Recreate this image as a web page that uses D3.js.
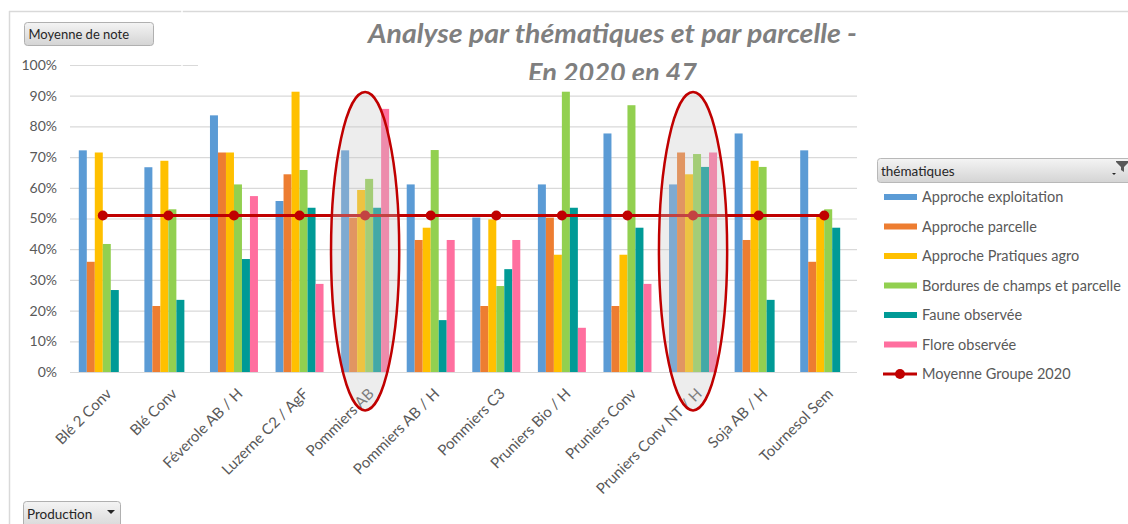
<!DOCTYPE html>
<html lang="fr">
<head>
<meta charset="utf-8">
<title>Analyse par thématiques et par parcelle</title>
<script src="https://d3js.org/d3.v7.min.js"></script>
<style>
  body { margin: 0; background: #fff; }
  svg { display: block; font-family: Lato, "Open Sans", sans-serif; }
</style>
</head>
<body>
<div id="chart"></div>
<script>
// categories (parcelles)
var categories = ["Blé 2 Conv", "Blé Conv", "Féverole AB / H", "Luzerne C2 / AgF", "Pommiers AB",
                  "Pommiers AB / H", "Pommiers C3", "Pruniers Bio / H", "Pruniers Conv",
                  "Pruniers Conv NT / H", "Soja AB / H", "Tournesol Sem"];

var seriesNames = ["Approche exploitation", "Approche parcelle", "Approche Pratiques agro",
                   "Bordures de champs et parcelle", "Faune observée", "Flore observée"];
var lineName = "Moyenne Groupe 2020";

var approcheExploitation = [0.722, 0.667, 0.836, 0.557, 0.722, 0.611, 0.503, 0.611, 0.777, 0.611, 0.777, 0.722];
var approcheParcelle     = [0.359, 0.215, 0.715, 0.644, 0.503, 0.430, 0.215, 0.503, 0.215, 0.715, 0.430, 0.359];
var approchePratiques    = [0.715, 0.688, 0.715, 0.913, 0.593, 0.470, 0.497, 0.382, 0.382, 0.644, 0.688, 0.506];
var bordures             = [0.417, 0.530, 0.611, 0.658, 0.629, 0.723, 0.280, 0.913, 0.869, 0.710, 0.668, 0.530];
var fauneObservee        = [0.267, 0.235, 0.368, 0.535, 0.535, 0.169, 0.335, 0.535, 0.470, 0.668, 0.235, 0.470];
var floreObservee        = [null, null, 0.573, 0.287, 0.857, 0.430, 0.430, 0.144, 0.287, 0.715, null, null];
var moyenneGroupe2020    = [0.51, 0.51, 0.51, 0.51, 0.51, 0.51, 0.51, 0.51, 0.51, 0.51, 0.51, 0.51];

var yTicks = [0, 0.1, 0.2, 0.3, 0.4, 0.5, 0.6, 0.7, 0.8, 0.9, 1.0];

// parcelles entourées en rouge
var highlighted = ["Pommiers AB", "Pruniers Conv NT / H"];

var colors = ["#5b9bd5", "#ed7d31", "#ffc000", "#92d050", "#009a96", "#ff6f9f"];
var red = "#c00000";

var allSeries = [approcheExploitation, approcheParcelle, approchePratiques, bordures, fauneObservee, floreObservee];

var W = 1128, H = 524;
var plot = { left: 70, right: 857, top: 65, bottom: 372 };

var svg = d3.select("#chart").append("svg")
    .attr("width", W).attr("height", H);

var defs = svg.append("defs");
var grad = defs.append("linearGradient").attr("id", "btn").attr("x1", 0).attr("y1", 0).attr("x2", 0).attr("y2", 1);
grad.append("stop").attr("offset", "0%").attr("stop-color", "#f4f4f4");
grad.append("stop").attr("offset", "100%").attr("stop-color", "#d4d4d4");

defs.append("clipPath").attr("id", "titleClip")
    .append("rect").attr("x", 190).attr("y", 12).attr("width", 800).attr("height", 68);

svg.append("rect").attr("width", W).attr("height", H).attr("fill", "#fff");

// cadre
svg.append("line").attr("x1", 9).attr("x2", W).attr("y1", 11.5).attr("y2", 11.5)
    .attr("stroke", "#d9d9d9").attr("stroke-width", 1.5);
svg.append("line").attr("x1", 9.5).attr("x2", 9.5).attr("y1", 11).attr("y2", H)
    .attr("stroke", "#d9d9d9").attr("stroke-width", 1.5);

var x0 = d3.scaleBand().domain(categories).range([plot.left, plot.right]).padding(0);
var x1 = d3.scaleBand().domain(seriesNames).range([0, x0.bandwidth()]).paddingOuter(1.1).paddingInner(0);
var y = d3.scaleLinear().domain([0, 1]).range([plot.bottom, plot.top]);

// axe Y + grille
var yAxis = d3.axisLeft(y).tickValues(yTicks).tickFormat(d3.format(".0%"))
    .tickSize(-(plot.right - plot.left)).tickPadding(13);
var gy = svg.append("g").attr("transform", "translate(" + plot.left + ",0)").call(yAxis);
gy.select(".domain").remove();
gy.selectAll(".tick line").attr("stroke", "#d9d9d9").attr("stroke-width", 1.2);
gy.selectAll(".tick text").attr("fill", "#595959").style("font-size", "14px").style("font-family", "Lato");

// barres
var groups = svg.append("g").selectAll("g.grp")
    .data(categories).enter().append("g")
    .attr("class", "grp")
    .attr("transform", function(d) { return "translate(" + x0(d) + ",0)"; });

groups.selectAll("rect")
    .data(function(d, i) {
        return seriesNames.map(function(s, j) { return { s: s, j: j, v: allSeries[j][i] }; })
                          .filter(function(e) { return e.v !== null; });
    })
    .enter().append("rect")
    .attr("x", function(d) { return x1(d.s); })
    .attr("y", function(d) { return y(d.v); })
    .attr("width", x1.bandwidth())
    .attr("height", function(d) { return y(0) - y(d.v); })
    .attr("fill", function(d) { return colors[d.j]; });

// axe X
var xAxis = d3.axisBottom(x0).tickSize(0).tickPadding(0);
var gx = svg.append("g").attr("transform", "translate(0," + plot.bottom + ")").call(xAxis);
gx.select(".domain").remove();
gx.selectAll(".tick text")
    .attr("fill", "#595959")
    .style("font-size", "15px").style("font-family", "Lato")
    .attr("text-anchor", "end")
    .attr("dy", "0.35em")
    .attr("transform", "translate(6,19) rotate(-45)");

// ligne moyenne
var pts = categories.map(function(c, i) { return [x0(c) + x0.bandwidth() / 2, y(moyenneGroupe2020[i])]; });
svg.append("path").attr("d", d3.line()(pts))
    .attr("fill", "none").attr("stroke", red).attr("stroke-width", 3);
svg.append("g").selectAll("circle").data(pts).enter().append("circle")
    .attr("cx", function(d) { return d[0]; }).attr("cy", function(d) { return d[1]; })
    .attr("r", 5).attr("fill", red);

// ellipses
svg.append("g").selectAll("ellipse").data(highlighted).enter().append("ellipse")
    .attr("cx", function(d) { return x0(d) + x0.bandwidth() / 2; })
    .attr("cy", (y(0.912) + y(-0.125)) / 2)
    .attr("rx", x0.bandwidth() * 0.52)
    .attr("ry", (y(-0.125) - y(0.912)) / 2)
    .attr("fill", "rgba(200,200,200,0.33)")
    .attr("stroke", red).attr("stroke-width", 2.5);

// zone titre (masque la grille du haut)
svg.append("rect").attr("x", 198).attr("y", 14).attr("width", 700).attr("height", 66).attr("fill", "#fff");
var title = svg.append("g").attr("clip-path", "url(#titleClip)")
    .style("font-family", "Lato").style("font-weight", "bold").style("font-style", "italic")
    .style("font-size", "26px").attr("fill", "#7f7f7f").attr("text-anchor", "middle");
title.append("text").attr("x", 612.5).attr("y", 43)
    .attr("textLength", 489).attr("lengthAdjust", "spacingAndGlyphs")
    .text("Analyse par thématiques et par parcelle -");
title.append("text").attr("x", 612.5).attr("y", 82)
    .attr("textLength", 169).attr("lengthAdjust", "spacingAndGlyphs")
    .text("En 2020 en 47");

// bouton "Moyenne de note"
svg.append("rect").attr("x", 24.5).attr("y", 22.5).attr("width", 129).attr("height", 23).attr("rx", 3)
    .attr("fill", "url(#btn)").attr("stroke", "#b0b0b0");
svg.append("text").attr("x", 28.5).attr("y", 39).text("Moyenne de note")
    .attr("fill", "#262626").style("font-size", "13px");

// bouton "Production"
svg.append("rect").attr("x", 23.5).attr("y", 501.5).attr("width", 97).attr("height", 30).attr("rx", 3)
    .attr("fill", "url(#btn)").attr("stroke", "#b0b0b0");
svg.append("text").attr("x", 27).attr("y", 519).text("Production")
    .attr("fill", "#262626").style("font-size", "13.5px");
svg.append("path").attr("d", "M107,510 L115,510 L111,514 Z").attr("fill", "#262626");

// légende
var lx = 877, ly = 158;
svg.append("rect").attr("x", lx + 0.5).attr("y", ly + 0.5).attr("width", 270).attr("height", 24).attr("rx", 3)
    .attr("fill", "url(#btn)").attr("stroke", "#b8b8b8");
svg.append("text").attr("x", lx + 4).attr("y", ly + 18).text("thématiques")
    .attr("fill", "#262626").style("font-size", "13.5px");
svg.append("path").attr("d", "M1116,161 L1128,161 L1128,163 L1124,167 L1124,172 L1121,170 L1121,167 L1116,162 Z")
    .attr("fill", "#595959");
svg.append("path").attr("d", "M1112,173 L1116,173 L1114,175 Z").attr("fill", "#262626");

var legendItems = seriesNames.concat([lineName]);
var li = svg.append("g").selectAll("g").data(legendItems).enter().append("g")
    .attr("transform", function(d, i) { return "translate(884," + (197 + i * 29.5) + ")"; });
li.each(function(d, i) {
    var g = d3.select(this);
    if (i < seriesNames.length) {
        g.append("rect").attr("x", 0).attr("y", -3).attr("width", 33).attr("height", 6).attr("fill", colors[i]);
    } else {
        g.append("line").attr("x1", -1).attr("x2", 33).attr("y1", 0).attr("y2", 0)
            .attr("stroke", red).attr("stroke-width", 3);
        g.append("circle").attr("cx", 16).attr("cy", 0).attr("r", 5).attr("fill", red);
    }
    g.append("text").attr("x", 38).attr("y", 0).attr("dy", "0.35em").text(d)
        .attr("fill", "#595959").style("font-size", "14.5px");
});

// coupure blanche dans la grille du haut
svg.append("line").attr("x1", 182).attr("x2", 182).attr("y1", 0).attr("y2", 70)
    .attr("stroke", "#fff").attr("stroke-width", 1.5);
</script>
</body>
</html>
